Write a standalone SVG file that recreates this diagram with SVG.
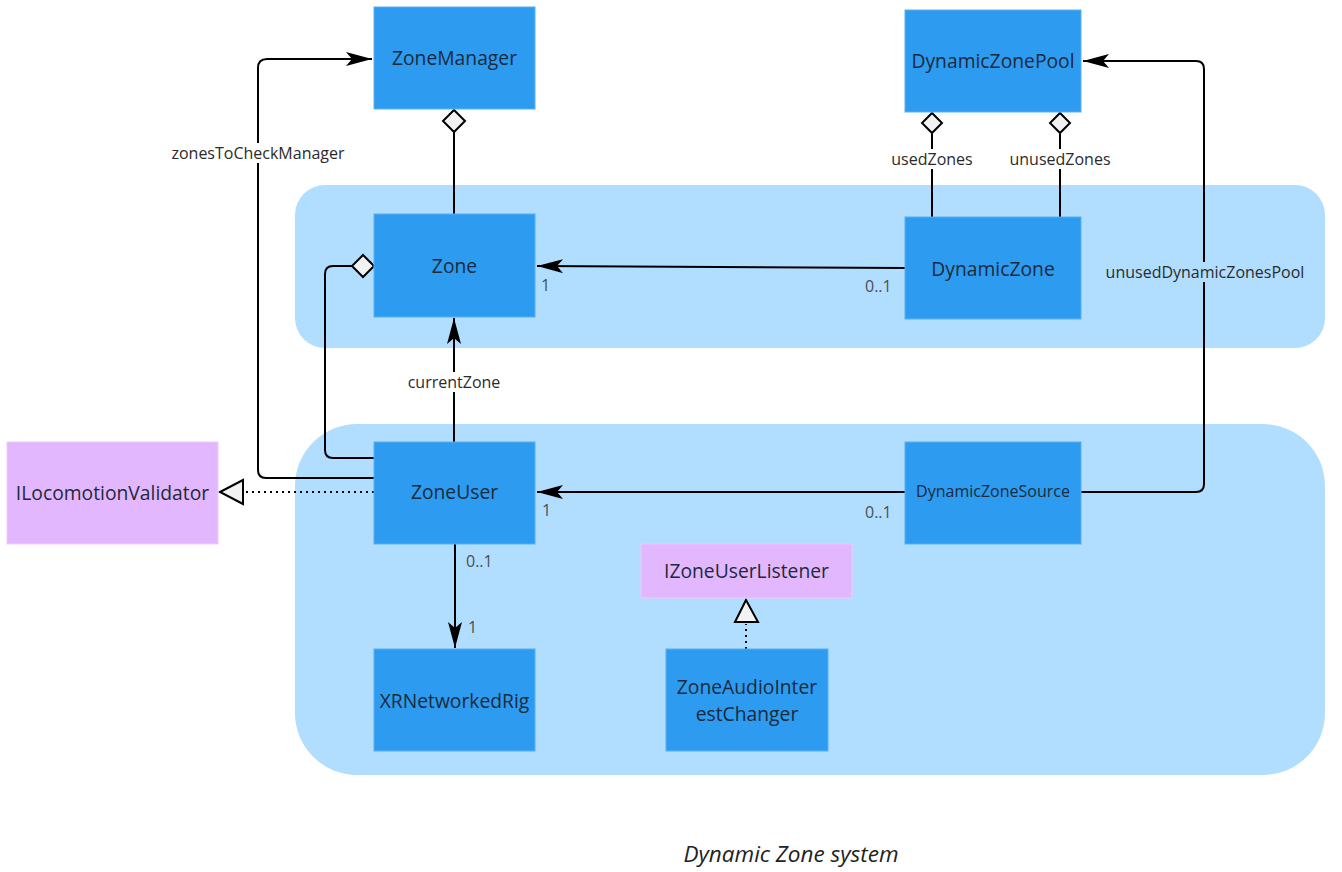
<svg xmlns="http://www.w3.org/2000/svg" width="1342" height="872" viewBox="0 0 1342 872">
<style>
.panel{fill:#b1ddfe}
.cls{fill:#2d9bef;stroke:#5ab0f2;stroke-width:1}
.ifc{fill:#e3b7fe;stroke:#ecccff;stroke-width:1}
.nt{font-family:"Open Sans","Liberation Sans",sans-serif;font-size:19.3px;fill:#1c2a3b;text-anchor:middle;dominant-baseline:central}
.lb{font-family:"Open Sans","Liberation Sans",sans-serif;font-size:16px;fill:#2b2b2b;text-anchor:middle;dominant-baseline:central}
.mu{font-family:"Open Sans","Liberation Sans",sans-serif;font-size:16px;fill:#4a4f55;dominant-baseline:central}
.ln{fill:none;stroke:#000;stroke-width:2}
.dot{fill:none;stroke:#000;stroke-width:2;stroke-dasharray:2 4}
.dia{fill:#f2f2f2;stroke:#000;stroke-width:2}
.tri{fill:#f2f2f2;stroke:#000;stroke-width:2}
</style>
<defs>
<marker id="fa" viewBox="0 0 26 14" refX="26" refY="7" markerWidth="26" markerHeight="14" markerUnits="userSpaceOnUse" orient="auto">
<path d="M0,0 L26,7 L0,14 L6,7 Z" fill="#000"/>
</marker>
</defs>
<rect width="1342" height="872" fill="#ffffff"/>
<g id="panels">
<rect class="panel" x="295" y="185" width="1030" height="163" rx="30" ry="30"/>
<rect class="panel" x="295" y="424" width="1030" height="351" rx="62" ry="62"/>
</g>
<g id="connectors">
<path class="ln" d="M374,478 H266 Q258,478 258,470 V68 Q258,59 267,59 H372" marker-end="url(#fa)"/>
<rect x="166" y="143" width="184" height="20" fill="#ffffff"/>
<text class="lb" x="258" y="153">zonesToCheckManager</text>
<path class="ln" d="M454,214 V132"/>
<path class="dia" d="M454,110 L465,121 L454,132 L443,121 Z"/>
<path class="ln" d="M374,458 H333 Q325,458 325,450 V274 Q325,266 333,266 H352"/>
<path class="dia" d="M363,255 L374,266 L363,277 L352,266 Z"/>
<path class="ln" d="M454,442 V318" marker-end="url(#fa)"/>
<rect x="402" y="372" width="104" height="20" fill="#ffffff"/>
<text class="lb" x="454" y="382">currentZone</text>
<path class="ln" d="M905,268 L537,266" marker-end="url(#fa)"/>
<text class="mu" x="541" y="285">1</text>
<text class="mu" x="865" y="286">0..1</text>
<path class="ln" d="M932,217 V134"/>
<path class="dia" d="M932,113 L942,123 L932,133 L922,123 Z"/>
<path class="ln" d="M1060,217 V134"/>
<path class="dia" d="M1060,113 L1070,123 L1060,133 L1050,123 Z"/>
<rect x="886" y="149" width="92" height="20" fill="#ffffff"/>
<text class="lb" x="932" y="159">usedZones</text>
<rect x="1004" y="149" width="112" height="20" fill="#ffffff"/>
<text class="lb" x="1060" y="159">unusedZones</text>
<path class="ln" d="M1081,492 H1196 Q1204,492 1204,484 V69 Q1204,61 1196,61 H1083" marker-end="url(#fa)"/>
<rect x="1100" y="262" width="210" height="20" fill="#b1ddfe"/>
<text class="lb" x="1205" y="272">unusedDynamicZonesPool</text>
<path class="ln" d="M905,492 H537" marker-end="url(#fa)"/>
<text class="mu" x="542" y="510">1</text>
<text class="mu" x="865" y="512">0..1</text>
<path class="ln" d="M455,544 V648" marker-end="url(#fa)"/>
<text class="mu" x="466" y="561">0..1</text>
<text class="mu" x="468" y="627">1</text>
<path class="dot" d="M374,492 H244"/>
<path class="tri" d="M220,492 L243,480 L243,504 Z"/>
<path class="dot" d="M746,649 V624"/>
<path class="tri" d="M746,600 L758,622 L735,622 Z"/>
</g>
<g id="ZoneManager"><rect class="cls" x="374" y="7" width="161" height="102"/><text class="nt" x="454.5" y="57">ZoneManager</text></g>
<g id="DynamicZonePool"><rect class="cls" x="905" y="10" width="176" height="102"/><text class="nt" x="993" y="60">DynamicZonePool</text></g>
<g id="Zone"><rect class="cls" x="374" y="214" width="161" height="103"/><text class="nt" x="454.5" y="265">Zone</text></g>
<g id="DynamicZone"><rect class="cls" x="905" y="217" width="176" height="102"/><text class="nt" x="993" y="268">DynamicZone</text></g>
<g id="ILocomotionValidator"><rect class="ifc" x="7" y="442" width="211" height="102"/><text class="nt" x="112.5" y="492">ILocomotionValidator</text></g>
<g id="ZoneUser"><rect class="cls" x="374" y="442" width="161" height="102"/><text class="nt" x="454.5" y="491">ZoneUser</text></g>
<g id="DynamicZoneSource"><rect class="cls" x="905" y="442" width="176" height="102"/><text class="nt" x="993" y="491" style="font-size:16px">DynamicZoneSource</text></g>
<g id="IZoneUserListener"><rect class="ifc" x="641" y="544" width="211" height="54"/><text class="nt" x="746.5" y="570">IZoneUserListener</text></g>
<g id="XRNetworkedRig"><rect class="cls" x="374" y="649" width="161" height="102"/><text class="nt" x="454.5" y="700">XRNetworkedRig</text></g>
<g id="ZoneAudioInterestChanger"><rect class="cls" x="666" y="649" width="162" height="102"/><text class="nt" x="747" y="686">ZoneAudioInter</text><text class="nt" x="747" y="713">estChanger</text></g>
<text x="791" y="853" style="font-family:'Open Sans','Liberation Sans',sans-serif;font-size:22.5px;font-style:italic;fill:#222;text-anchor:middle;dominant-baseline:central">Dynamic Zone system</text>
</svg>
